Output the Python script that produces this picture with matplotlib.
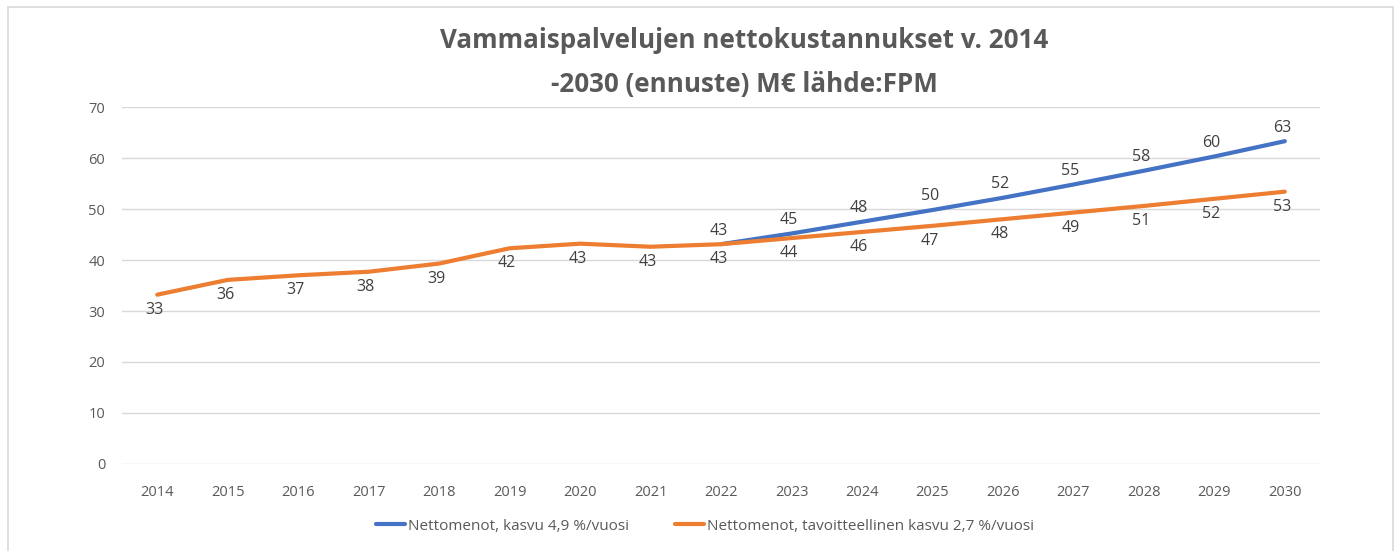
import matplotlib
matplotlib.use("Agg")
import matplotlib.pyplot as plt
from matplotlib.patches import Rectangle

plt.rcParams['font.family'] = ['Open Sans', 'DejaVu Sans']

years = list(range(2014, 2031))
# orange: target growth 2.7 %/year, whole period
tavoite = [33.2, 36.1, 37.0, 37.7, 39.3, 42.3, 43.2, 42.6, 43.1,
           44.3, 45.5, 46.7, 48.0, 49.3, 50.6, 52.0, 53.4]
# blue: growth 4.9 %/year, forecast from 2022
years_kasvu = list(range(2022, 2031))
kasvu = [43.1, 45.2, 47.5, 49.8, 52.2, 54.8, 57.5, 60.3, 63.3]

blue = '#4472C4'
orange = '#ED7D31'
gray = '#595959'

fig = plt.figure(figsize=(13.96, 5.51), dpi=100)
fig.patches.append(Rectangle((8 / 1396, -0.01), 1385 / 1396, 1 - 7 / 551 + 0.01,
                             transform=fig.transFigure, fill=False,
                             edgecolor='#D9D9D9', linewidth=1.2))
ax = fig.add_axes([0.0874, 0.1579, 0.8582, 0.6479])

ax.plot(years_kasvu, kasvu, color=blue, lw=3, solid_capstyle='round',
        label='Nettomenot, kasvu 4,9 %/vuosi', zorder=3)
ax.plot(years, tavoite, color=orange, lw=3, solid_capstyle='round',
        label='Nettomenot, tavoitteellinen kasvu 2,7 %/vuosi', zorder=4)

for x, v in zip(years_kasvu, kasvu):
    ax.annotate(f'{v:.0f}', (x, v), xytext=(-2, 4), textcoords='offset points',
                ha='center', va='bottom', fontsize=11.5, color='#404040')
for x, v in zip(years, tavoite):
    ax.annotate(f'{v:.0f}', (x, v), xytext=(-2, -5), textcoords='offset points',
                ha='center', va='top', fontsize=11.5, color='#404040')

ax.set_xlim(2013.5, 2030.5)
ax.set_ylim(0, 70)
ax.set_yticks(range(0, 71, 10))
ax.set_xticks(years)
ax.tick_params(axis='both', length=0, labelsize=10.5, colors=gray)
ax.tick_params(axis='x', pad=15)
ax.tick_params(axis='y', pad=12)
ax.grid(axis='y', color='#D9D9D9', lw=1)
ax.set_axisbelow(True)
for s in ax.spines.values():
    s.set_visible(False)

fig.text(0.533, 0.887, 'Vammaispalvelujen nettokustannukset v. 2014\n-2030 (ennuste) M€ lähde:FPM',
         ha='center', va='center', fontsize=18.7, fontweight='bold', color=gray,
         linespacing=1.8)

fig.legend(loc='center', bbox_to_anchor=(0.505, 0.045), ncol=2, frameon=False,
           fontsize=11, handlelength=1.9, handletextpad=0.2, columnspacing=3.0,
           labelcolor=gray)

fig.savefig('out.png', dpi=100)
